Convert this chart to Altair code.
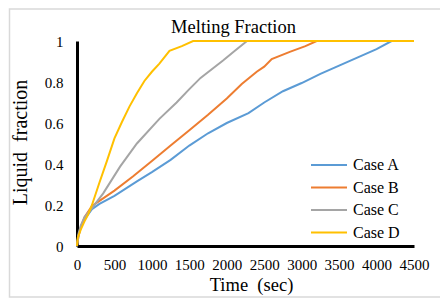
import altair as alt
import pandas as pd

cases = ["Case A", "Case B", "Case C", "Case D"]
colors = ["#5B9BD5", "#ED7D31", "#A5A5A5", "#FFC000"]

a_time = [0, 20, 50, 100, 200, 300, 500, 800, 1000, 1250, 1500, 1750, 2000, 2290, 2500, 2750, 3000, 3250, 3500, 3750, 4000, 4200, 4500]
a_frac = [0, 0.05, 0.09, 0.13, 0.18, 0.205, 0.245, 0.315, 0.36, 0.42, 0.49, 0.55, 0.6, 0.648, 0.7, 0.755, 0.795, 0.84, 0.88, 0.92, 0.96, 1.0, 1.0]

b_time = [0, 20, 50, 100, 200, 300, 500, 750, 1000, 1250, 1500, 1750, 2000, 2200, 2400, 2500, 2600, 2850, 3050, 3200, 4500]
b_frac = [0, 0.05, 0.09, 0.14, 0.195, 0.22, 0.27, 0.34, 0.415, 0.49, 0.565, 0.64, 0.72, 0.79, 0.85, 0.875, 0.912, 0.948, 0.975, 1.0, 1.0]

c_time = [0, 20, 50, 100, 200, 350, 575, 800, 1100, 1330, 1500, 1650, 1950, 2100, 2270, 4500]
c_frac = [0, 0.06, 0.1, 0.14, 0.185, 0.257, 0.387, 0.5, 0.62, 0.70, 0.765, 0.82, 0.905, 0.95, 1.0, 1.0]

d_time = [0, 10, 50, 100, 150, 200, 300, 400, 500, 600, 700, 800, 900, 1000, 1100, 1235, 1400, 1550, 4500]
d_frac = [0, 0.04, 0.08, 0.12, 0.155, 0.2, 0.31, 0.415, 0.525, 0.605, 0.68, 0.745, 0.805, 0.85, 0.89, 0.952, 0.975, 1.0, 1.0]

x_ticks = [0, 500, 1000, 1500, 2000, 2500, 3000, 3500, 4000, 4500]
y_ticks = [0, 0.2, 0.4, 0.6, 0.8, 1]

rows = []
for name, ts, vs in zip(cases, [a_time, b_time, c_time, d_time], [a_frac, b_frac, c_frac, d_frac]):
    for i, (t, v) in enumerate(zip(ts, vs)):
        rows.append({"case": name, "time": t, "frac": v, "order": i})
df = pd.DataFrame(rows)

FONT = "Liberation Serif"

border = alt.Chart(pd.DataFrame({"k": [0]})).mark_rect(
    fillOpacity=0, stroke="#D9D9D9", strokeWidth=1.5
).encode(
    x=alt.value(-67.5), x2=alt.value(364), y=alt.value(-32), y2=alt.value(256)
)

lines = alt.Chart(df).mark_line(strokeWidth=2, clip=False).encode(
    x=alt.X("time:Q", scale=alt.Scale(domain=[0, 4500], nice=False),
            axis=alt.Axis(values=x_ticks, format="d", title="Time \u00a0(sec)",
                          titleX=174, titleY=44, titleBaseline="alphabetic",
                          titleAlign="center", labelPadding=11, labelOverlap=False,
                          labelFlush=False)),
    y=alt.Y("frac:Q", scale=alt.Scale(domain=[0, 1], nice=False),
            axis=alt.Axis(values=y_ticks, format="~g", title="Liquid \u00a0fraction",
                          titleX=-51, titleY=101, titleBaseline="alphabetic",
                          titleAlign="center", titleFontSize=20, labelPadding=14,
                          labelOverlap=False, labelFlush=False)),
    color=alt.Color("case:N", scale=alt.Scale(domain=cases, range=colors),
                    legend=alt.Legend(title=None, orient="none", legendX=244, legendY=116,
                                      symbolType="M-3,0H3", symbolSize=144,
                                      symbolStrokeWidth=2, labelOffset=16,
                                      labelFontSize=16, labelFont=FONT,
                                      labelColor="#000000", rowPadding=6.5, padding=0)),
    order="order:Q",
)

chart = alt.layer(border, lines).properties(
    width=337, height=205,
    autosize=alt.AutoSizeParams(type="none"),
    padding={"left": 69, "top": 33, "right": 26, "bottom": 52},
    title=alt.TitleParams("Melting Fraction", font=FONT, fontSize=18.5, fontWeight="normal",
                          color="#000000", anchor="middle", dx=-12, offset=6,
                          baseline="alphabetic", dy=49),
).configure_axis(
    domainColor="#000000", domainWidth=3, ticks=False, grid=False,
    labelFont=FONT, labelFontSize=15, labelColor="#000000",
    titleFont=FONT, titleFontSize=18.5, titleColor="#000000", titleFontWeight="normal",
    zindex=1,
).configure_view(stroke=None)

chart.save("out.html", embed_options={"renderer": "svg", "actions": False})
